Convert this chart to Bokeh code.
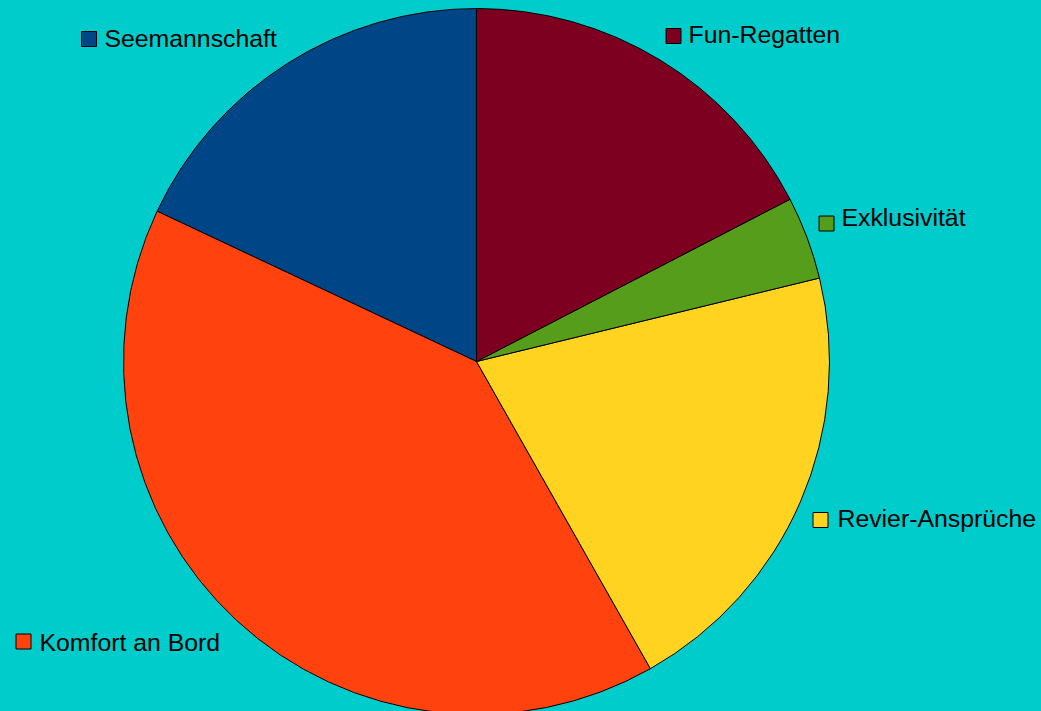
import numpy as np
from bokeh.plotting import figure
from bokeh.models import Range1d, ColumnDataSource, GlobalInlineStyleSheet
from bokeh.embed import file_html
from bokeh.resources import INLINE
from bokeh.core.properties import value

# ---- data ----
categories = ["Seemannschaft", "Komfort an Bord", "Revier-Ansprüche", "Exklusivität", "Fun-Regatten"]
shares = [18.0, 40.2, 20.6, 3.8, 17.4]
colors = ["#004586", "#ff420e", "#ffd320", "#579d1c", "#7e0021"]

# ---- layout (page pixel coordinates) ----
BG = "#00CCCC"
W, H = 1041, 711
cx, cy, r = 476, 361, 353
sq_x = [88.5, 23, 820, 826, 673]
sq_y = [38.5, 641, 519.5, 223, 35.5]
tx_x = [104, 39, 837, 841, 688]
tx_y = [38, 642, 518, 217, 34]

def fy(y):
    return H - y

total = float(sum(shares))
cum = np.concatenate([[0.0], np.cumsum(shares)])
start = np.pi / 2 + 2 * np.pi * cum[:-1] / total
end = np.pi / 2 + 2 * np.pi * cum[1:] / total

src = ColumnDataSource(dict(cat=categories, val=shares, color=colors,
                            start=start, end=end))

p = figure(width=W, height=H, x_range=Range1d(0, W), y_range=Range1d(0, H),
           toolbar_location=None, output_backend="svg", min_border=0,
           x_axis_type=None, y_axis_type=None,
           background_fill_color=BG, border_fill_color=BG, outline_line_color=None)
p.grid.visible = False

p.wedge(x=cx, y=fy(cy), radius=r, start_angle="start", end_angle="end",
        direction="anticlock", fill_color="color", line_color="black", line_width=1,
        source=src)

lsrc = ColumnDataSource(dict(sx=sq_x, sy=[fy(v) for v in sq_y], tx=tx_x,
                             ty=[fy(v) for v in tx_y], cat=categories, color=colors))
p.rect(x="sx", y="sy", width=15, height=15, fill_color="color", line_color="black",
       line_width=1, source=lsrc)
p.text(x="tx", y="ty", text="cat", text_font=value("Liberation Sans"),
       text_font_size="24.8px", text_baseline="alphabetic", text_align="left",
       text_color="black", source=lsrc)

p.stylesheets = [GlobalInlineStyleSheet(css=f"html, body {{ background: {BG}; }}")]

open("out.html", "w").write(file_html(p, INLINE))
